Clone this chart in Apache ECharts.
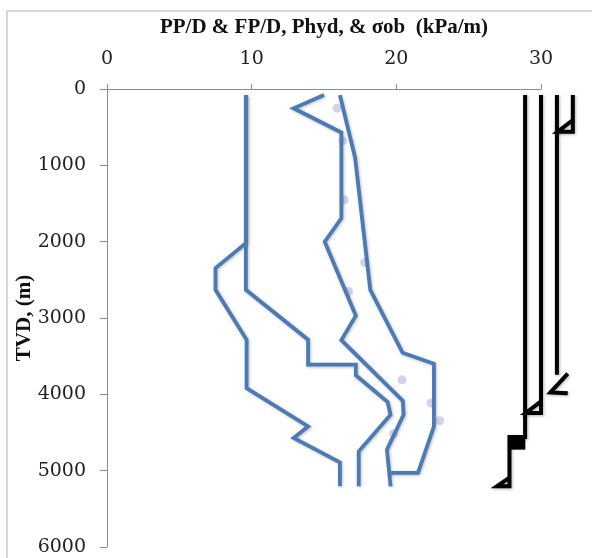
<!DOCTYPE html>
<html>
<head>
<meta charset="utf-8">
<script src="https://cdn.jsdelivr.net/npm/echarts@6/dist/echarts.min.js"></script>
<style>
  html, body { margin: 0; padding: 0; background: #fff; }
  #main { width: 592px; height: 558px; }
</style>
</head>
<body>
<div id="main"></div>
<script>
// gradient curves, [kPa/m, TVD m]
var ppLow = [[9.6, 80], [9.6, 2020], [7.5, 2347], [7.5, 2631], [9.65, 3285], [9.65, 3918], [13.9, 4420], [12.9, 4572], [16.1, 4891], [16.1, 5205]];
var ppHigh = [[9.6, 80], [9.6, 2630], [13.9, 3285], [13.9, 3612], [17.2, 3612], [17.2, 3750], [19.4, 4100], [19.6, 4267], [17.4, 4747], [17.4, 5205]];
var fpLow = [[15.0, 80], [12.9, 253], [16.2, 570], [16.2, 1693], [15.05, 2000], [17.2, 2970], [16.2, 3290], [20.45, 4085], [20.5, 4267], [19.35, 4725], [19.6, 5205]];
var fpHigh = [[16.1, 80], [17.15, 900], [18.2, 2631], [20.43, 3455], [22.6, 3600], [22.6, 4420], [21.5, 5030], [19.5, 5030]];
var measured = [[15.9, 253], [16.3, 677], [16.4, 1453], [17.8, 2274], [16.7, 2653], [20.4, 3809], [22.4, 4114], [23.0, 4346], [19.8, 4516]];

// casing strings and shoes
var casing1 = [[28.9, 80], [28.9, 4560], [27.82, 4560], [27.82, 5205], [26.95, 5205], [27.82, 5090]];
var casing2 = [[30.0, 80], [30.0, 4245], [28.95, 4245], [30.0, 4093]];
var casing3 = [[31.1, 80], [31.1, 3743]];
var shoe3 = [[31.85, 3730], [30.65, 3975], [31.85, 3985]];
var casing4 = [[32.2, 80], [32.2, 559], [31.15, 559], [32.2, 406]];
var shoeBlock = [[27.78, 4555, 28.92, 4725]];

var xMax = 30;
var xMaxWide = 33;
var depthMax = 6000;

var myChart = echarts.init(document.getElementById('main'));
var serif = 'DejaVu Serif';
var blue = '#4a7bb7';
var plotLeft = 107, plotWidth = 434;

function blueLine(name, data) {
  return {
    name: name,
    type: 'line',
    data: data,
    symbol: 'none',
    z: 3,
    lineStyle: {
      color: blue, width: 3.8, join: 'miter',
      shadowColor: 'rgba(0,0,0,0.25)', shadowBlur: 3, shadowOffsetX: 1, shadowOffsetY: 1
    }
  };
}

// casing goes past the 30 mark, so it sits on a wider hidden axis with the same scale
function blackLine(data) {
  return {
    type: 'line',
    xAxisIndex: 1,
    yAxisIndex: 1,
    data: data,
    symbol: 'none',
    clip: false,
    z: 4,
    lineStyle: {
      color: '#000', width: 4, join: 'miter', cap: 'butt',
      shadowColor: 'rgba(0,0,0,0.3)', shadowBlur: 3, shadowOffsetX: 1, shadowOffsetY: 1
    }
  };
}

var option = {
  backgroundColor: '#fff',
  animation: false,
  graphic: [{
    type: 'rect',
    shape: { x: 7, y: 11, width: 620, height: 600 },
    style: { fill: 'none', stroke: '#c8c8c8', lineWidth: 1.5 },
    silent: true
  }],
  grid: [
    { left: plotLeft, top: 89, width: plotWidth, bottom: 11, outerBoundsMode: 'none' },
    { left: plotLeft, top: 89, width: plotWidth * xMaxWide / xMax, bottom: 11, outerBoundsMode: 'none' }
  ],
  xAxis: [{
    type: 'value',
    gridIndex: 0,
    position: 'top',
    min: 0,
    max: xMax,
    interval: 10,
    name: 'PP/D & FP/D, Phyd, & σob  (kPa/m)',
    nameLocation: 'middle',
    nameGap: 51,
    nameMoveOverlap: false,
    nameTextStyle: { fontFamily: 'Liberation Serif', fontWeight: 'bold', fontSize: 21, color: '#111' },
    axisLine: { show: true, lineStyle: { color: '#8c8c8c', width: 1 } },
    axisTick: { show: true, length: 5, lineStyle: { color: '#8c8c8c' } },
    axisLabel: { fontFamily: serif, fontSize: 19, color: '#222', margin: 20 },
    splitLine: { show: false }
  }, {
    type: 'value',
    gridIndex: 1,
    position: 'top',
    min: 0,
    max: xMaxWide,
    show: false
  }],
  yAxis: [{
    type: 'value',
    gridIndex: 0,
    inverse: true,
    min: 0,
    max: depthMax,
    interval: 1000,
    name: 'TVD, (m)',
    nameLocation: 'middle',
    nameGap: 72,
    nameMoveOverlap: false,
    nameTextStyle: { fontFamily: 'Liberation Serif', fontWeight: 'bold', fontSize: 21, color: '#111' },
    axisLine: { show: true, lineStyle: { color: '#8c8c8c', width: 1 } },
    axisTick: { show: true, length: 7, lineStyle: { color: '#8c8c8c' } },
    axisLabel: {
      fontFamily: serif, fontSize: 19, color: '#222', margin: 21,
      formatter: function (v) { return String(v); }
    },
    splitLine: { show: false }
  }, {
    type: 'value',
    gridIndex: 1,
    inverse: true,
    min: 0,
    max: depthMax,
    show: false
  }],
  series: [
    {
      name: 'measured',
      type: 'scatter',
      data: measured,
      symbolSize: 9,
      z: 2,
      itemStyle: { color: '#c6cbe1' }
    },
    blueLine('PP/D low', ppLow),
    blueLine('PP/D high', ppHigh),
    blueLine('FP/D low', fpLow),
    blueLine('FP/D high', fpHigh),
    blackLine(casing1),
    blackLine(casing2),
    blackLine(casing3),
    blackLine(shoe3),
    blackLine(casing4),
    {
      type: 'custom',
      xAxisIndex: 1,
      yAxisIndex: 1,
      data: shoeBlock,
      z: 5,
      clip: false,
      renderItem: function (params, api) {
        var a = api.coord([api.value(0), api.value(1)]);
        var b = api.coord([api.value(2), api.value(3)]);
        return {
          type: 'rect',
          shape: { x: a[0], y: a[1], width: b[0] - a[0], height: b[1] - a[1] },
          style: { fill: '#000' }
        };
      }
    }
  ]
};

myChart.setOption(option);
</script>
</body>
</html>
